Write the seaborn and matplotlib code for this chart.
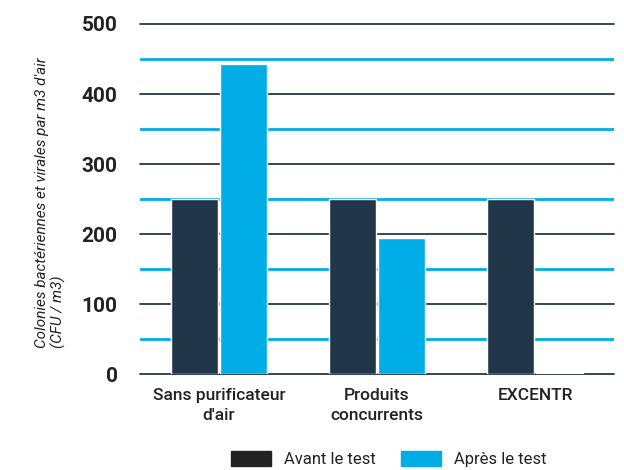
import pandas as pd
import matplotlib
matplotlib.use("Agg")
import matplotlib.pyplot as plt
import seaborn as sns

categories = ["Sans purificateur\nd'air", "Produits\nconcurrents", "EXCENTR"]
avant = [250, 250, 250]
apres = [443, 195, 2]
series = ["Avant le test", "Après le test"]
yticks = [0, 100, 200, 300, 400, 500]

df = pd.DataFrame({
    "cat": categories * 2,
    "val": avant + apres,
    "serie": [series[0]] * 3 + [series[1]] * 3,
})

sns.set_theme(style="white")
plt.rcParams["font.family"] = ["Roboto", "DejaVu Sans"]

dark = "#22364a"
cyan = "#00ade6"

fig = plt.figure(figsize=(6.24, 4.70), dpi=100)
ax = fig.add_axes([0.224, 0.204, 0.76, 0.745])

sns.barplot(data=df, x="cat", y="val", hue="serie", palette=[dark, cyan],
            width=0.62, gap=0.04, saturation=1, ax=ax, legend=False)

ax.set_ylim(0, 500)
ax.set_xlim(-0.5, 2.5)
ax.set_yticks(yticks, labels=[str(v) for v in yticks], fontweight="bold",
              fontsize=15)
ax.set_yticks(range(50, 500, 100), minor=True)
ax.grid(axis="y", which="major", color=dark, lw=1.3)
ax.grid(axis="y", which="minor", color=cyan, lw=2)
for gl in ax.get_ygridlines():
    gl.set_clip_on(False)
ax.set_axisbelow(True)
sns.despine(ax=ax, left=True, bottom=True)

ax.tick_params(axis="y", which="both", length=0, pad=16, labelcolor="#222222")
ax.tick_params(axis="x", length=0, pad=10, labelsize=12.5, labelcolor="#222222")
for t in ax.get_xticklabels():
    t.set_fontweight("medium")
    t.set_linespacing(1.45)
ax.set_xlabel("")
ax.set_ylabel("Colonies bactériennes et virales par m3 d'air\n(CFU / m3)",
              fontsize=11, style="italic", color="#222222",
              multialignment="left")
ax.yaxis.set_label_coords(-0.155, 0.49)

handles = [plt.Rectangle((0, 0), 1, 1, color="#222222"),
           plt.Rectangle((0, 0), 1, 1, color=cyan)]
fig.legend(handles, series, loc="center", bbox_to_anchor=(0.623, 0.024),
           ncol=2, frameon=False, fontsize=12, handlelength=2.4,
           handleheight=1.0, columnspacing=1.5, handletextpad=0.8,
           labelcolor="#222222", borderpad=0)

fig.savefig("out.png", dpi=100)
